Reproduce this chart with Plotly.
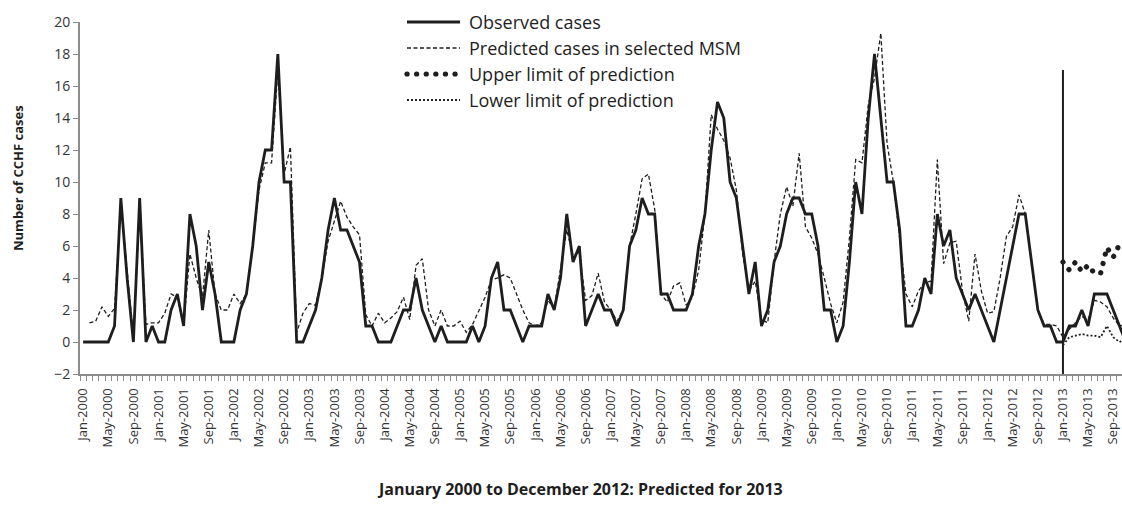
import plotly.graph_objects as go

# ---- categories -------------------------------------------------------------
MONTHS = ["Jan", "Feb", "Mar", "Apr", "May", "Jun",
          "Jul", "Aug", "Sep", "Oct", "Nov", "Dec"]
YEARS = list(range(2000, 2014))
month_labels = [f"{m}-{y}" for y in YEARS for m in MONTHS]

# ---- series (monthly CCHF cases) ---------------------------------------------
observed = [
    0, 0, 0, 0, 0, 1, 9, 4, 0, 9, 0, 1,            # 2000
    0, 0, 2, 3, 1, 8, 6, 2, 5, 3, 0, 0,            # 2001
    0, 2, 3, 6, 10, 12, 12, 18, 10, 10, 0, 0,      # 2002
    1, 2, 4, 7, 9, 7, 7, 6, 5, 1, 1, 0,            # 2003
    0, 0, 1, 2, 2, 4, 2, 1, 0, 1, 0, 0,            # 2004
    0, 0, 1, 0, 1, 4, 5, 2, 2, 1, 0, 1,            # 2005
    1, 1, 3, 2, 4, 8, 5, 6, 1, 2, 3, 2,            # 2006
    2, 1, 2, 6, 7, 9, 8, 8, 3, 3, 2, 2,            # 2007
    2, 3, 6, 8, 12, 15, 14, 10, 9, 6, 3, 5,        # 2008
    1, 2, 5, 6, 8, 9, 9, 8, 8, 6, 2, 2,            # 2009
    0, 1, 5, 10, 8, 14, 18, 14, 10, 10, 7, 1,      # 2010
    1, 2, 4, 3, 8, 6, 7, 4, 3, 2, 3, 2,            # 2011
    1, 0, 2, 4, 6, 8, 8, 5, 2, 1, 1, 0,            # 2012
    0, 1, 1, 2, 1, 3, 3, 3, 2, 1, 0, 1,            # 2013
]

predicted = [
    None, 1.2, 1.3, 2.2, 1.6, 2.1, 8.5, 4.5, 0.3, 8.5, 1.1, 1.2,      # 2000
    1.2, 1.8, 3.0, 2.8, 1.0, 5.5, 4.0, 2.8, 7.0, 3.0, 2.0, 2.0,       # 2001
    3.0, 2.4, 3.0, 6.0, 9.5, 11.2, 11.2, 17.0, 10.5, 12.2, 0.6, 1.8,  # 2002
    2.4, 2.3, 4.0, 6.3, 7.5, 8.8, 7.8, 7.2, 6.7, 1.7, 1.0, 1.8,       # 2003
    1.2, 1.5, 1.9, 2.8, 1.4, 4.8, 5.2, 2.0, 1.0, 2.0, 1.0, 1.0,       # 2004
    1.3, 0.6, 1.1, 2.0, 2.8, 3.9, 4.0, 4.2, 4.0, 3.0, 2.0, 1.2,       # 2005
    1.0, 1.2, 2.6, 2.1, 4.5, 7.0, 5.4, 5.6, 2.6, 2.9, 4.3, 2.5,       # 2006
    2.0, 1.3, 2.0, 6.0, 8.0, 10.2, 10.5, 8.3, 3.0, 2.5, 3.5, 3.7,     # 2007
    2.3, 2.8, 4.5, 8.0, 14.2, 13.3, 12.6, 11.5, 9.5, 5.5, 3.2, 3.8,   # 2008
    1.4, 1.2, 5.0, 8.0, 9.7, 8.5, 11.8, 7.2, 6.5, 5.5, 4.0, 2.4,      # 2009
    1.2, 2.5, 6.5, 11.4, 11.2, 14.8, 16.5, 19.3, 12.4, 10.0, 6.5, 3.0,  # 2010
    2.2, 3.2, 3.7, 3.8, 11.4, 4.9, 6.2, 6.3, 3.2, 1.3, 5.5, 3.2,      # 2011
    1.8, 1.9, 4.0, 6.6, 7.2, 9.2, 8.0, 5.0, 2.0, 1.1, 1.1, 1.0,       # 2012
    0.3, 0.8, 1.2, 1.6, 1.4, 2.6, 2.5, 2.2, 1.5, 1.0, 1.1, 1.2,       # 2013
]

# prediction limits for the forecast year
forecast_labels = [f"{m}-2013" for m in MONTHS]
upper_limit = [5.0, 4.5, 5.0, 4.4, 4.8, 4.3, 4.3, 5.9, 5.3, 6.1, 6.2, 6.4]
lower_limit = [-0.2, 0.3, 0.4, 0.5, 0.4, 0.4, 0.3, 1.0, 0.3, 0.0, 0.2, 0.3]

# vertical marker at the start of the forecast period
forecast_start = "Jan-2013"
marker_span = [-2, 17]

# ---- geometry / styling ------------------------------------------------------
W, H = 1122, 511
M_LEFT, M_TOP, M_BOTTOM = 80, 22, 137
PLOT_W = W - M_LEFT
PLOT_H = H - M_TOP - M_BOTTOM
X_RANGE = [-0.5, 165.4]
Y_RANGE = [-2, 20]

AXIS_GREY = "#8c8c8c"
INK = "#1e1e1e"
FONT = "Open Sans"

DOT_DASH = "0.1px,9.5px"          # round dots once line caps are rounded
PRED_DASH = "4px,2.5px"
LOWER_DASH = "2px,2px"

pos = {lab: i for i, lab in enumerate(month_labels)}
x_all = list(range(len(month_labels)))
x_fc = [pos[l] for l in forecast_labels]


def px(xpix):
    return (xpix - M_LEFT) / PLOT_W


def py(ypix):
    return (M_TOP + PLOT_H - ypix) / PLOT_H


fig = go.Figure()

fig.add_trace(go.Scatter(x=x_all, y=observed, mode="lines",
                         line=dict(color=INK, width=2.8),
                         name="Observed cases", showlegend=False))
fig.add_trace(go.Scatter(x=x_all, y=predicted, mode="lines",
                         line=dict(color=INK, width=1.3, dash=PRED_DASH),
                         name="Predicted cases in selected MSM", showlegend=False))
fig.add_trace(go.Scatter(x=x_fc, y=upper_limit, mode="lines",
                         line=dict(color=INK, width=5.2, dash=DOT_DASH),
                         name="Upper limit of prediction", showlegend=False))
fig.add_trace(go.Scatter(x=x_fc, y=lower_limit, mode="lines",
                         line=dict(color=INK, width=1.8, dash=LOWER_DASH),
                         name="Lower limit of prediction", showlegend=False))
fig.add_trace(go.Scatter(x=[pos[forecast_start]] * 2, y=marker_span, mode="lines",
                         line=dict(color=INK, width=2), showlegend=False,
                         hoverinfo="skip"))

# ---- legend drawn as line samples + labels -----------------------------------
legend_items = [
    ("Observed cases", dict(color=INK, width=2.8)),
    ("Predicted cases in selected MSM", dict(color=INK, width=1.3, dash=PRED_DASH)),
    ("Upper limit of prediction", dict(color=INK, width=5.2, dash=DOT_DASH)),
    ("Lower limit of prediction", dict(color=INK, width=1.8, dash=LOWER_DASH)),
]
row_y = [22, 48, 74, 100]
for (label, style), ry in zip(legend_items, row_y):
    fig.add_shape(type="line", xref="paper", yref="paper",
                  x0=px(407), x1=px(460), y0=py(ry), y1=py(ry), line=style)
    fig.add_annotation(text=label, xref="paper", yref="paper",
                       x=px(467), y=py(ry), xanchor="left", yanchor="middle",
                       showarrow=False, font=dict(family=FONT, size=18, color=INK))

# axis titles
fig.add_annotation(text="<b>Number of CCHF cases</b>", xref="paper", yref="paper",
                   x=px(18), y=py(178), textangle=-90, showarrow=False,
                   xanchor="center", yanchor="middle",
                   font=dict(family=FONT, size=13, color=INK))
fig.add_annotation(text="<b>January 2000 to December 2012: Predicted for 2013</b>",
                   xref="paper", yref="paper", x=px(580), y=py(489),
                   showarrow=False, xanchor="center", yanchor="middle",
                   font=dict(family=FONT, size=16, color=INK))

fig.update_layout(
    width=W, height=H,
    margin=dict(l=M_LEFT, r=0, t=M_TOP, b=M_BOTTOM, pad=0),
    paper_bgcolor="white", plot_bgcolor="white",
    font=dict(family=FONT, color="#333333"),
    showlegend=False,
    xaxis=dict(
        range=X_RANGE, showgrid=False, zeroline=False,
        showline=True, linecolor=AXIS_GREY, linewidth=2,
        tickmode="array", tickvals=x_all[::4], ticktext=month_labels[::4],
        tickangle=-90, ticks="outside", ticklen=7, tickcolor="rgba(0,0,0,0)",
        tickfont=dict(family=FONT, size=13, color="#333333"),
        minor=dict(ticks="outside", ticklen=5, tickwidth=1.2, tickcolor=AXIS_GREY,
                   tick0=-0.5, dtick=1, showgrid=False),
    ),
    yaxis=dict(
        range=Y_RANGE, dtick=2, tick0=0, showgrid=False, zeroline=False,
        showline=True, linecolor=AXIS_GREY, linewidth=2,
        ticks="outside", ticklen=5, tickcolor=AXIS_GREY, tickwidth=1.2,
        tickfont=dict(family=FONT, size=14, color="#333333"),
    ),
)

round_caps = """
document.querySelectorAll('path').forEach(function (p) {
  var d = p.style.strokeDasharray || '';
  if (d.indexOf('0.1px') === 0) { p.style.strokeLinecap = 'round'; }
});
"""

fig.write_html("out.html", post_script=round_caps)
